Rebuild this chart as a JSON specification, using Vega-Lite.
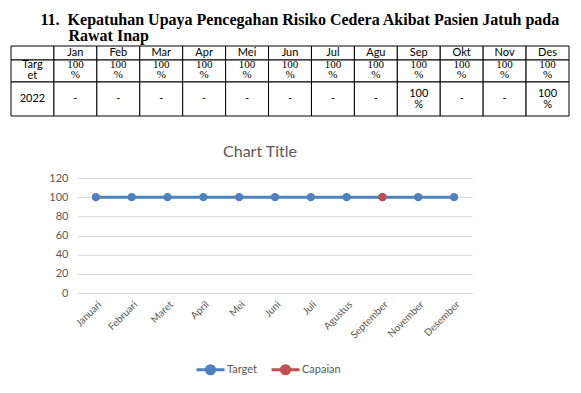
{
  "$schema": "https://vega.github.io/schema/vega-lite/v6.json",
  "background": "white",
  "padding": {"left": 10, "top": 11, "right": 5, "bottom": 0},
  "title": {
    "text": "11.\u00a0\u00a0Kepatuhan Upaya Pencegahan Risiko Cedera Akibat Pasien Jatuh pada",
    "anchor": "start",
    "dx": 30,
    "font": "Liberation Serif",
    "fontSize": 16,
    "fontWeight": "bold",
    "color": "black",
    "offset": 0
  },
  "spacing": 27,
  "config": {
    "view": {"stroke": null}
  },
  "datasets": {
    "table": [
      {"row": "head", "col": "label", "label": ""},
      {"row": "head", "col": "Jan", "label": "Jan"},
      {"row": "head", "col": "Feb", "label": "Feb"},
      {"row": "head", "col": "Mar", "label": "Mar"},
      {"row": "head", "col": "Apr", "label": "Apr"},
      {"row": "head", "col": "Mei", "label": "Mei"},
      {"row": "head", "col": "Jun", "label": "Jun"},
      {"row": "head", "col": "Jul", "label": "Jul"},
      {"row": "head", "col": "Agu", "label": "Agu"},
      {"row": "head", "col": "Sep", "label": "Sep"},
      {"row": "head", "col": "Okt", "label": "Okt"},
      {"row": "head", "col": "Nov", "label": "Nov"},
      {"row": "head", "col": "Des", "label": "Des"},
      {"row": "target", "col": "label", "label": "Targ\net"},
      {"row": "target", "col": "Jan", "label": "100\n%"},
      {"row": "target", "col": "Feb", "label": "100\n%"},
      {"row": "target", "col": "Mar", "label": "100\n%"},
      {"row": "target", "col": "Apr", "label": "100\n%"},
      {"row": "target", "col": "Mei", "label": "100\n%"},
      {"row": "target", "col": "Jun", "label": "100\n%"},
      {"row": "target", "col": "Jul", "label": "100\n%"},
      {"row": "target", "col": "Agu", "label": "100\n%"},
      {"row": "target", "col": "Sep", "label": "100\n%"},
      {"row": "target", "col": "Okt", "label": "100\n%"},
      {"row": "target", "col": "Nov", "label": "100\n%"},
      {"row": "target", "col": "Des", "label": "100\n%"},
      {"row": "y2022", "col": "label", "label": "2022"},
      {"row": "y2022", "col": "Jan", "label": "-"},
      {"row": "y2022", "col": "Feb", "label": "-"},
      {"row": "y2022", "col": "Mar", "label": "-"},
      {"row": "y2022", "col": "Apr", "label": "-"},
      {"row": "y2022", "col": "Mei", "label": "-"},
      {"row": "y2022", "col": "Jun", "label": "-"},
      {"row": "y2022", "col": "Jul", "label": "-"},
      {"row": "y2022", "col": "Agu", "label": "-"},
      {"row": "y2022", "col": "Sep", "label": "100\n%"},
      {"row": "y2022", "col": "Okt", "label": "-"},
      {"row": "y2022", "col": "Nov", "label": "-"},
      {"row": "y2022", "col": "Des", "label": "100\n%"}
    ],
    "chart": [
      {"bulan": "Januari", "seri": "Target", "nilai": 100},
      {"bulan": "Februari", "seri": "Target", "nilai": 100},
      {"bulan": "Maret", "seri": "Target", "nilai": 100},
      {"bulan": "April", "seri": "Target", "nilai": 100},
      {"bulan": "Mei", "seri": "Target", "nilai": 100},
      {"bulan": "Juni", "seri": "Target", "nilai": 100},
      {"bulan": "Juli", "seri": "Target", "nilai": 100},
      {"bulan": "Agustus", "seri": "Target", "nilai": 100},
      {"bulan": "September", "seri": "Target", "nilai": 100},
      {"bulan": "November", "seri": "Target", "nilai": 100},
      {"bulan": "Desember", "seri": "Target", "nilai": 100},
      {"bulan": "September", "seri": "Capaian", "nilai": 100}
    ]
  },
  "vconcat": [
    {
      "title": {"text": "Rawat Inap", "anchor": "start", "dx": 58, "font": "Liberation Serif", "fontSize": 16, "fontWeight": "bold", "color": "black", "offset": 2},
      "spacing": 0,
      "bounds": "flush",
      "vconcat": [
        {
          "width": 558,
          "height": 14,
          "data": {"name": "table"},
          "transform": [{"filter": "datum.row == 'head'"}],
          "encoding": {
            "x": {"field": "col", "type": "nominal", "sort": null, "axis": null,
              "scale": {"domain": ["label", "Jan", "Feb", "Mar", "Apr", "Mei", "Jun", "Jul", "Agu", "Sep", "Okt", "Nov", "Des"], "paddingInner": 0, "paddingOuter": 0}}
          },
          "layer": [
            {"mark": {"type": "rect", "fill": "white", "stroke": "black", "strokeWidth": 1}},
            {"mark": {"type": "text", "font": "Lato", "fontSize": 11, "color": "black"}, "encoding": {"text": {"field": "label"}}}
          ]
        },
        {
          "width": 558,
          "height": 22,
          "data": {"name": "table"},
          "transform": [{"filter": "datum.row == 'target'"}],
          "encoding": {
            "x": {"field": "col", "type": "nominal", "sort": null, "axis": null,
              "scale": {"domain": ["label", "Jan", "Feb", "Mar", "Apr", "Mei", "Jun", "Jul", "Agu", "Sep", "Okt", "Nov", "Des"], "paddingInner": 0, "paddingOuter": 0}}
          },
          "layer": [
            {"mark": {"type": "rect", "fill": "white", "stroke": "black", "strokeWidth": 1}},
            {
              "transform": [{"filter": "datum.col == 'label'"}],
              "mark": {"type": "text", "font": "Lato", "fontSize": 11, "lineBreak": "\n", "lineHeight": 11, "dy": -6, "color": "black"},
              "encoding": {"text": {"field": "label"}}
            },
            {
              "transform": [{"filter": "datum.col != 'label'"}],
              "mark": {"type": "text", "font": "Liberation Serif", "fontSize": 11, "lineBreak": "\n", "lineHeight": 10, "dy": -6, "color": "black"},
              "encoding": {"text": {"field": "label"}}
            }
          ]
        },
        {
          "width": 558,
          "height": 34,
          "data": {"name": "table"},
          "transform": [{"filter": "datum.row == 'y2022'"}],
          "encoding": {
            "x": {"field": "col", "type": "nominal", "sort": null, "axis": null,
              "scale": {"domain": ["label", "Jan", "Feb", "Mar", "Apr", "Mei", "Jun", "Jul", "Agu", "Sep", "Okt", "Nov", "Des"], "paddingInner": 0, "paddingOuter": 0}}
          },
          "layer": [
            {"mark": {"type": "rect", "fill": "white", "stroke": "black", "strokeWidth": 1}},
            {
              "transform": [{"filter": "indexof(datum.label, '%') < 0"}],
              "mark": {"type": "text", "font": "Lato", "fontSize": 11, "color": "black"},
              "encoding": {"text": {"field": "label"}}
            },
            {
              "transform": [{"filter": "indexof(datum.label, '%') >= 0"}],
              "mark": {"type": "text", "font": "Lato", "fontSize": 11, "lineBreak": "\n", "lineHeight": 11, "dy": -5, "color": "black"},
              "encoding": {"text": {"field": "label"}}
            }
          ]
        }
      ]
    },
    {
      "spacing": 0,
      "hconcat": [
        {"width": 37, "height": 115, "data": {"values": []}, "mark": "point"},
        {
          "width": 394,
          "height": 115,
          "title": {"text": "Chart Title", "font": "Lato", "fontSize": 16, "fontWeight": "normal", "color": "#595959", "frame": "bounds", "anchor": "middle", "offset": 12},
          "data": {"name": "chart"},
          "encoding": {
            "x": {"field": "bulan", "type": "nominal", "sort": null,
              "scale": {"domain": ["Januari", "Februari", "Maret", "April", "Mei", "Juni", "Juli", "Agustus", "September", "November", "Desember"]},
              "axis": {"labelAngle": -45, "labelFont": "Lato", "labelFontSize": 10, "labelColor": "#595959", "ticks": false, "domainColor": "#D9D9D9", "title": null, "labelPadding": 6}},
            "y": {"field": "nilai", "type": "quantitative", "scale": {"domain": [0, 120]},
              "axis": {"values": [0, 20, 40, 60, 80, 100, 120], "title": null, "ticks": false, "domain": false, "gridColor": "#D9D9D9", "labelFont": "Lato", "labelFontSize": 11, "labelColor": "#595959", "labelPadding": 10, "minExtent": 30, "maxExtent": 30}},
            "color": {"field": "seri", "type": "nominal",
              "scale": {"domain": ["Target", "Capaian"], "range": ["#4F81BD", "#C0504D"]},
              "legend": {"orient": "none", "legendX": 184, "legendY": 308, "padding": 0, "direction": "horizontal", "title": null, "labelFont": "Lato", "labelFontSize": 11, "labelColor": "#595959",
                "symbolType": "M-1,0L1,0M0.29,0A0.29,0.29,0,1,1,-0.29,0A0.29,0.29,0,1,1,0.29,0Z",
                "symbolSize": 784, "symbolStrokeWidth": 3, "labelOffset": 1, "columnPadding": 8,
                "encode": {"symbols": {"update": {"fill": {"scale": "color", "field": "value"}, "stroke": {"scale": "color", "field": "value"}}}}}
            }
          },
          "layer": [
            {"mark": {"type": "line", "strokeWidth": 3}},
            {"mark": {"type": "point", "filled": true, "size": 70, "opacity": 1}}
          ]
        }
      ]
    }
  ]
}
